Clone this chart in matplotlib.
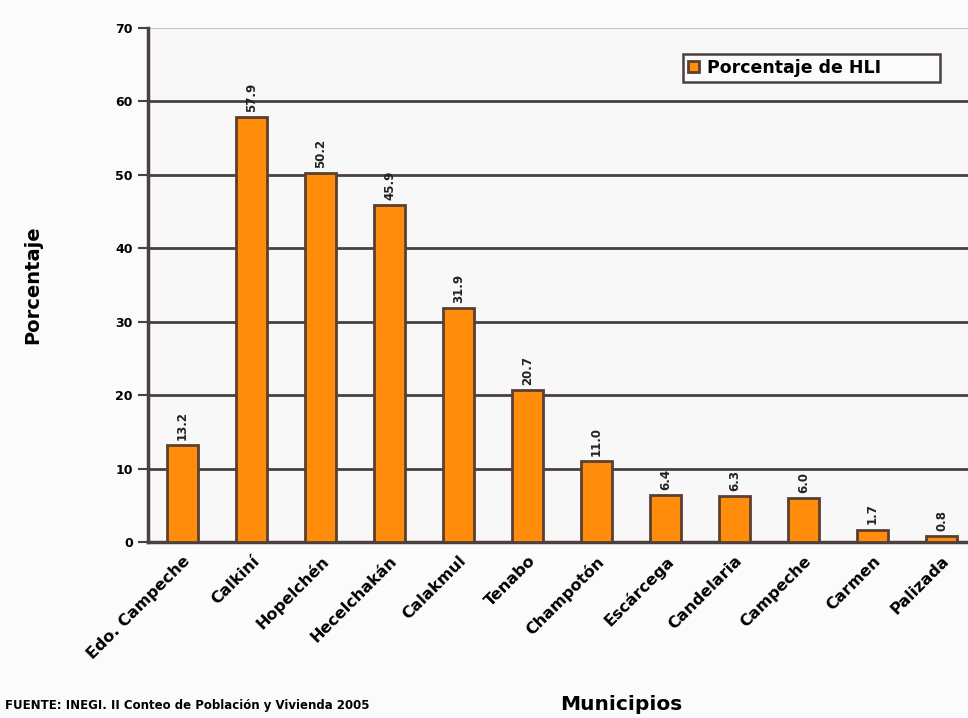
import matplotlib.pyplot as plt
import numpy as np

municipios = ["Edo. Campeche", "Calkiní", "Hopelchén", "Hecelchakán", "Calakmul",
              "Tenabo", "Champotón", "Escárcega", "Candelaria", "Campeche",
              "Carmen", "Palizada"]
porcentaje = [13.2, 57.9, 50.2, 45.9, 31.9, 20.7, 11.0, 6.4, 6.3, 6.0, 1.7, 0.8]

W, H = 968, 718
fig = plt.figure(figsize=(W / 100, H / 100), dpi=100)
fig.patch.set_facecolor("#fbfbfb")

# el area del grafico se sale un poco por la derecha, como en el original
left, right, top, bottom = 148, 976, 28, 542
ax = fig.add_axes([left / W, 1 - bottom / H, (right - left) / W, (bottom - top) / H])
ax.set_facecolor("#f8f8f8")

x = np.arange(len(municipios))
bars = ax.bar(x, porcentaje, width=0.45, color="#ff8c0a", edgecolor="#5a4030",
              linewidth=2, zorder=3, label="Porcentaje de HLI")

for b, v in zip(bars, porcentaje):
    ax.text(b.get_x() + b.get_width() / 2, v + 0.7, f"{v:.1f}", rotation=90,
            ha="center", va="bottom", fontsize=8.5, fontweight="bold", color="#222222")

ax.set_xlim(-0.5, len(municipios) - 0.5)
ax.set_ylim(0, 70)
ax.set_yticks(range(0, 71, 10))
for yv in range(10, 70, 10):
    ax.axhline(yv, color="#4a4040", linewidth=2, zorder=1)
ax.axhline(70, color="#c8c8c8", linewidth=1.5, zorder=1)
ax.tick_params(axis="y", labelsize=9, length=7, width=1.5, color="#4a4040", pad=4)
for lbl in ax.get_yticklabels():
    lbl.set_fontweight("bold")

ax.set_xticks(x)
ax.set_xticklabels(municipios, rotation=45, ha="right", rotation_mode="anchor",
                   fontsize=11.5, fontweight="bold")
ax.tick_params(axis="x", length=0, pad=8)

for s in ["top", "right"]:
    ax.spines[s].set_visible(False)
ax.spines["left"].set_color("#4a4040")
ax.spines["left"].set_linewidth(2.5)
ax.spines["bottom"].set_color("#4a4040")
ax.spines["bottom"].set_linewidth(2.5)

ax.set_ylabel("Porcentaje", fontsize=14, fontweight="bold")
ax.yaxis.set_label_coords(-0.128, 0.5)

leg = ax.legend(loc="lower left", bbox_to_anchor=(0.646, 0.895, 0.31, 0.052),
                mode="expand", handlelength=0.6, handleheight=0.6, handletextpad=0.5,
                frameon=True, fancybox=False, borderpad=0.3, borderaxespad=0,
                prop={"weight": "bold", "size": 12.5})
leg.get_frame().set_edgecolor("#4a4040")
leg.get_frame().set_linewidth(1.8)
leg.get_frame().set_facecolor("#fbfbfb")
leg.get_frame().set_alpha(1)

fig.text(560 / W, 1 - 705 / H, "Municipios", fontsize=14.5, fontweight="bold",
         ha="left", va="center")
fig.text(5 / W, 1 - 705 / H, "FUENTE: INEGI. II Conteo de Población y Vivienda 2005",
         fontsize=8.5, fontweight="bold", ha="left", va="center")

fig.savefig("out.png", dpi=100, facecolor=fig.get_facecolor())
